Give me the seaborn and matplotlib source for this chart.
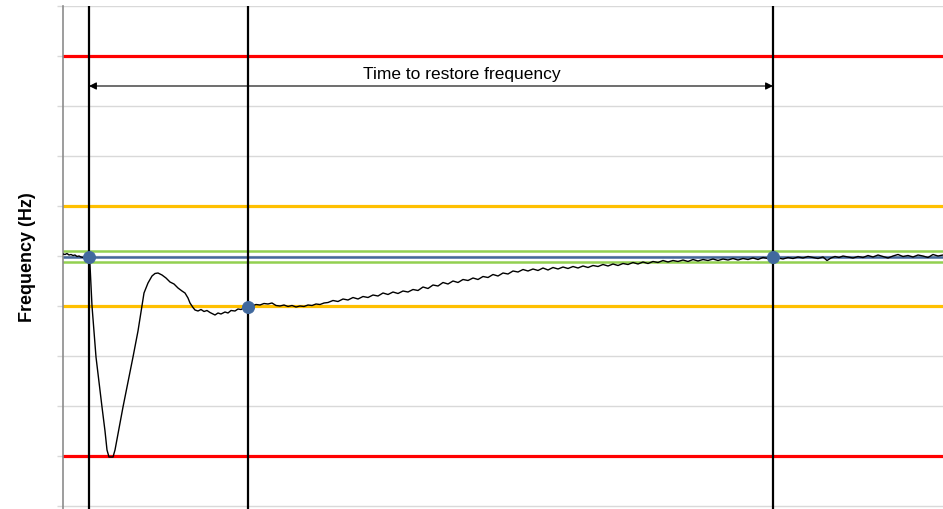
import matplotlib
matplotlib.use("Agg")
import matplotlib.pyplot as plt
import seaborn as sns
import pandas as pd

# frequency trace (time in s, frequency in Hz)
time_s = [
    0, 2, 4, 6, 8, 10, 12, 14, 16, 18,
    20, 22, 24, 26, 27, 28, 29, 31, 33, 36,
    39, 42, 44, 46, 50, 52, 56, 60, 65, 70,
    75, 79, 81, 85, 89, 92, 95, 99, 103, 107,
    111, 115, 119, 122, 125, 127, 130, 132, 135, 138,
    141, 144, 147, 150, 152, 155, 158, 162, 165, 168,
    172, 175, 178, 182, 185, 189, 193, 197, 201, 205,
    209, 213, 217, 221, 225, 229, 233, 237, 241, 245,
    249, 253, 257, 261,
    265, 270, 275, 280, 285, 290, 295, 300, 305, 310,
    315, 320, 325, 330, 335, 340, 345, 350, 355, 360,
    365, 370, 375, 380, 385, 390, 395, 400, 405, 410,
    415, 420, 425, 430, 435, 440, 445, 450, 455, 460,
    465, 470, 475, 480, 485, 490, 495, 500, 505, 510,
    515, 520, 525, 530, 535, 540, 545, 550, 555, 560,
    565, 570, 575, 580, 585, 590, 595, 600, 605, 610,
    615, 620, 625, 630, 635, 640, 645, 650, 655, 660,
    665, 670, 675, 680, 685, 690, 695, 700, 705, 710,
    715, 720, 725, 730, 735, 740, 745, 750, 755, 760,
    764, 768, 772, 776, 780, 785, 790, 795, 800, 805,
    810, 815, 820, 825, 830, 835, 840, 845, 850, 855,
    860, 865, 870, 875, 880,
]
freq_hz = [
    50.004, 50.003, 50.005, 50.002, 50.003, 50.001, 50.002, 49.999, 50.000, 49.998,
    49.997, 49.999, 49.997, 49.998, 49.982, 49.942, 49.900, 49.850, 49.798, 49.748,
    49.698, 49.650, 49.612, 49.598, 49.598, 49.612, 49.655, 49.698, 49.748, 49.798,
    49.850, 49.900, 49.926, 49.946, 49.960, 49.965, 49.966, 49.962, 49.956, 49.948,
    49.944, 49.936, 49.930, 49.926, 49.916, 49.906, 49.897, 49.892, 49.890, 49.893,
    49.889, 49.891, 49.887, 49.884, 49.882, 49.886, 49.884, 49.888, 49.886, 49.891,
    49.890, 49.894, 49.893, 49.897, 49.898, 49.900, 49.903, 49.902, 49.905, 49.904,
    49.906, 49.901, 49.900, 49.902, 49.899, 49.901, 49.898, 49.900, 49.899, 49.902,
    49.901, 49.904, 49.903, 49.906,
    49.907, 49.911, 49.909, 49.914, 49.912, 49.917, 49.914, 49.919, 49.917, 49.922,
    49.920, 49.926, 49.923, 49.928, 49.925, 49.930, 49.928, 49.933, 49.931, 49.938,
    49.935, 49.942, 49.940, 49.947, 49.944, 49.950, 49.947, 49.953, 49.951, 49.956,
    49.953, 49.959, 49.957, 49.963, 49.960, 49.966, 49.964, 49.970, 49.968, 49.973,
    49.970, 49.974, 49.971, 49.976, 49.972, 49.977, 49.974, 49.978, 49.975, 49.979,
    49.976, 49.980, 49.977, 49.981, 49.979, 49.983, 49.980, 49.984, 49.981, 49.985,
    49.983, 49.987, 49.984, 49.988, 49.985, 49.989, 49.987, 49.991, 49.988, 49.991,
    49.989, 49.992, 49.989, 49.993, 49.990, 49.993, 49.991, 49.994, 49.991, 49.994,
    49.992, 49.995, 49.992, 49.995, 49.993, 49.996, 49.993, 49.997, 49.995, 49.998,
    49.996, 49.994, 49.997, 49.995, 49.998, 49.996, 49.999, 49.997, 49.995, 49.998,
    49.991, 49.996, 49.999, 49.997, 50.000, 49.998, 49.996, 49.999, 49.997, 50.001,
    49.998, 50.002, 49.999, 49.996, 50.000, 50.003, 49.999, 50.001, 49.998, 50.002,
    50.000, 49.997, 50.003, 50.000, 50.002,
]
assert len(time_s) == len(freq_hz)

# event markers (incident, nadir recovery, restored)
event_t = [26, 185, 710]
event_f = [49.998, 49.898, 49.998]

# reference levels
red_limits = [50.4, 49.6]
orange_limits = [50.1, 49.9]
green_band = [50.010, 49.988]
nominal = 49.998

grid_ticks = [49.5, 49.6, 49.7, 49.8, 49.9, 50.0, 50.1, 50.2, 50.3, 50.4, 50.5]

df = pd.DataFrame({"t": time_s, "f": freq_hz})
ev = pd.DataFrame({"t": event_t, "f": event_f})

sns.set_style("white")
plt.rcParams["font.family"] = ["Liberation Sans", "DejaVu Sans"]

fig = plt.figure(figsize=(9.43, 5.09), dpi=100)
ax = fig.add_axes([63 / 943, 0.0, 880 / 943, 503 / 509])

ax.set_xlim(0, 880)
ax.set_ylim(49.494, 50.5)
ax.set_yticks(grid_ticks)
ax.set_yticklabels([])
ax.set_xticks([])
ax.grid(axis="y", color="#d9d9d9", linewidth=1.0)
ax.tick_params(axis="y", direction="out", length=4, color="#d9d9d9", width=1.0, left=True)
for side in ["top", "right", "bottom"]:
    ax.spines[side].set_visible(False)
ax.spines["left"].set_color("#8c8c8c")
ax.spines["left"].set_linewidth(1.2)

for y in red_limits:
    ax.axhline(y, color="#ff0000", linewidth=2.3, zorder=2)
for y in orange_limits:
    ax.axhline(y, color="#ffc000", linewidth=2.3, zorder=2)
for y in green_band:
    ax.axhline(y, color="#92d050", linewidth=1.8, zorder=2)
ax.axhline(nominal, color="#44689a", linewidth=1.8, zorder=2)

for t in event_t:
    ax.axvline(t, color="black", linewidth=1.6, zorder=3)

sns.lineplot(data=df, x="t", y="f", ax=ax, color="black", linewidth=1.0, zorder=4)
sns.scatterplot(data=ev, x="t", y="f", ax=ax, color="#41699e", s=75,
                edgecolor="#41699e", zorder=5)

ax.annotate("", xy=(event_t[0], 50.34), xytext=(event_t[2], 50.34),
            arrowprops=dict(arrowstyle="<|-|>", color="black", lw=0.8,
                            mutation_scale=11, shrinkA=0, shrinkB=0), zorder=6)
ax.text(399, 50.364, "Time to restore frequency", ha="center", va="center",
        fontsize=12.5, color="black")

ax.set_xlabel("")
ax.set_ylabel("Frequency (Hz)", fontsize=13, fontweight="bold", color="black",
              labelpad=12)

fig.savefig("out.png", dpi=100)
